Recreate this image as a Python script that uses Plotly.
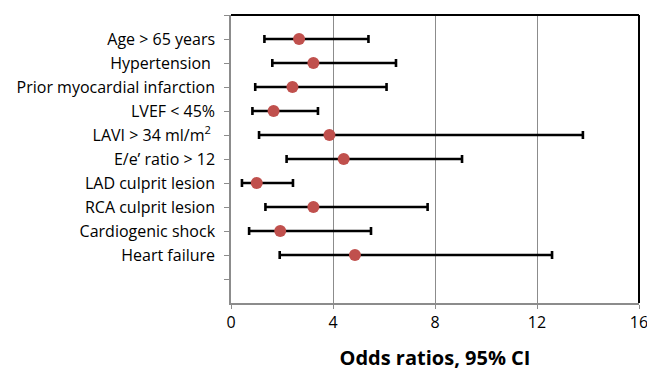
import plotly.graph_objects as go

labels = ["Age > 65 years", "Hypertension\u00a0", "Prior myocardial infarction", "LVEF < 45%",
          "LAVI > 34 ml/m<sup>2</sup>\u00a0", "E/e\u2019 ratio > 12", "LAD culprit lesion",
          "RCA culprit lesion", "Cardiogenic shock", "Heart failure"]
odds = [2.67, 3.23, 2.41, 1.67, 3.86, 4.42, 1.01, 3.23, 1.93, 4.86]
ci_low = [1.31, 1.62, 0.95, 0.84, 1.10, 2.18, 0.43, 1.35, 0.71, 1.91]
ci_high = [5.39, 6.47, 6.10, 3.41, 13.80, 9.06, 2.43, 7.71, 5.49, 12.59]
positions = [11, 10, 9, 8, 7, 6, 5, 4, 3, 2]
x_ticks = [0, 4, 8, 12, 16]

err_plus = [h - o for h, o in zip(ci_high, odds)]
err_minus = [o - l for o, l in zip(odds, ci_low)]

FONT = "Open Sans"

fig = go.Figure()
fig.add_trace(go.Scatter(
    x=odds, y=positions, mode="markers",
    marker=dict(color="#C0504D", size=12, line=dict(width=0)),
    error_x=dict(type="data", symmetric=False, array=err_plus, arrayminus=err_minus,
                 color="black", thickness=2.6, width=4),
    showlegend=False, hoverinfo="x+y",
))

fig.update_layout(
    width=647, height=371,
    margin=dict(l=231, r=8, t=15, b=68),
    paper_bgcolor="white", plot_bgcolor="white",
    font=dict(family=FONT, size=15, color="black"),
    xaxis=dict(range=[0, 16], tickvals=x_ticks, ticktext=[str(v) for v in x_ticks],
               automargin=False, ticklabeloverflow="allow",
               showgrid=True, gridcolor="#8c8c8c", gridwidth=1,
               showline=True, linecolor="#8c8c8c", linewidth=1.5,
               ticks="outside", ticklen=4, tickcolor="#8c8c8c", tickwidth=1.2,
               zeroline=False, tickfont=dict(size=16, family=FONT),
               title=dict(text="<b>Odds ratios, 95% CI</b>", font=dict(size=20, family=FONT),
                          standoff=20)),
    yaxis=dict(range=[0, 12], tickvals=positions[::-1], ticktext=labels[::-1],
               automargin=False,
               showgrid=False, zeroline=False,
               showline=True, linecolor="#8c8c8c", linewidth=1.5,
               ticks="outside", ticklen=5, tickcolor="#8c8c8c", tickwidth=1.2,
               minor=dict(tickvals=[1, 12], ticks="outside", ticklen=5,
                          tickcolor="#8c8c8c", tickwidth=1.2, showgrid=False),
               ticklabelstandoff=6, tickfont=dict(size=16, family=FONT)),
    shapes=[
        dict(type="line", xref="x domain", yref="y domain", x0=0, x1=1, y0=1, y1=1,
             line=dict(color="black", width=2)),
        dict(type="line", xref="x domain", yref="y domain", x0=1, x1=1, y0=0, y1=1,
             line=dict(color="black", width=2)),
    ],
)

fig.write_html("out.html", config={"displayModeBar": False},
               post_script="document.body.style.margin='0';")
